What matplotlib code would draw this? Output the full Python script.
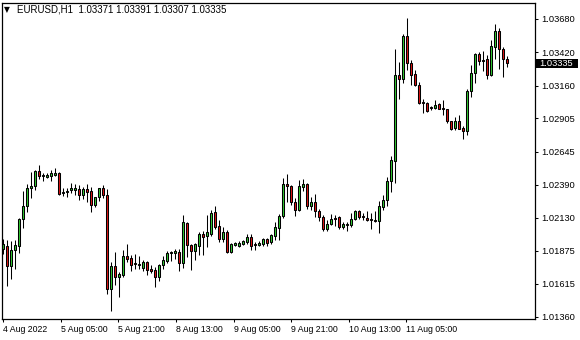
import numpy as np
import matplotlib
matplotlib.use('Agg')
import matplotlib.pyplot as plt
import matplotlib.transforms as mtransforms
from matplotlib.patches import Rectangle

plt.rcParams['font.family'] = ['Liberation Sans', 'DejaVu Sans']

symbol = 'EURUSD,H1'

# hourly candles, 4 Aug 2022 13:00 onwards
opens = [1.01887, 1.01911, 1.01755, 1.01880, 1.01911, 1.02121, 1.02222, 1.02363, 1.02378, 1.02495,
         1.02456, 1.02448, 1.02456, 1.02464, 1.02480, 1.02324, 1.02332, 1.02347, 1.02347, 1.02355,
         1.02308, 1.02355, 1.02339, 1.02230, 1.02293, 1.02363, 1.02308, 1.01576, 1.01755, 1.01669,
         1.01685, 1.01833, 1.01817, 1.01770, 1.01763, 1.01739, 1.01786, 1.01731, 1.01724, 1.01669,
         1.01763, 1.01794, 1.01856, 1.01856, 1.01864, 1.01778, 1.02090, 1.01919, 1.01872, 1.01911,
         1.02004, 1.01989, 1.02004, 1.02176, 1.02067, 1.01965, 1.02020, 1.01864, 1.01919, 1.01911,
         1.01926, 1.01942, 1.01981, 1.01926, 1.01919, 1.01926, 1.01965, 1.01942, 1.01989, 1.02051,
         1.02145, 1.02394, 1.02378, 1.02254, 1.02191, 1.02371, 1.02394, 1.02222, 1.02254, 1.02184,
         1.02137, 1.02043, 1.02082, 1.02129, 1.02137, 1.02059, 1.02078, 1.02074, 1.02121, 1.02184,
         1.02145, 1.02129, 1.02121, 1.02113, 1.02106, 1.02215, 1.02269, 1.02417, 1.02573, 1.03243,
         1.03212, 1.03547, 1.03337, 1.03251, 1.03166, 1.03033, 1.03025, 1.02994, 1.02986, 1.03017,
         1.02986, 1.02978, 1.02885, 1.02830, 1.02885, 1.02830, 1.02807, 1.03119, 1.03259, 1.03407,
         1.03360, 1.03368, 1.03243, 1.03462, 1.03586, 1.03446, 1.03371]
highs = [1.01965, 1.01957, 1.01950, 1.01957, 1.02129, 1.02339, 1.02394, 1.02487, 1.02503, 1.02542,
         1.02480, 1.02480, 1.02503, 1.02519, 1.02487, 1.02363, 1.02363, 1.02402, 1.02394, 1.02386,
         1.02371, 1.02394, 1.02371, 1.02293, 1.02363, 1.02386, 1.02355, 1.01786, 1.01864, 1.01708,
         1.01880, 1.01926, 1.01841, 1.01848, 1.01833, 1.01802, 1.01790, 1.01763, 1.01747, 1.01770,
         1.01833, 1.01872, 1.01872, 1.01887, 1.01887, 1.02152, 1.02095, 1.01926, 1.01934, 1.02020,
         1.02028, 1.02152, 1.02191, 1.02222, 1.02113, 1.02059, 1.02035, 1.01934, 1.01942, 1.01950,
         1.01957, 1.02004, 1.02004, 1.01942, 1.01950, 1.01973, 1.01973, 1.02004, 1.02098, 1.02160,
         1.02441, 1.02472, 1.02386, 1.02285, 1.02425, 1.02433, 1.02400, 1.02293, 1.02316, 1.02199,
         1.02152, 1.02113, 1.02160, 1.02152, 1.02145, 1.02098, 1.02098, 1.02168, 1.02191, 1.02188,
         1.02168, 1.02184, 1.02168, 1.02184, 1.02261, 1.02308, 1.02448, 1.02612, 1.03446, 1.03345,
         1.03563, 1.03688, 1.03360, 1.03282, 1.03189, 1.03056, 1.03033, 1.03002, 1.03049, 1.03025,
         1.03049, 1.02982, 1.02888, 1.02916, 1.02932, 1.02846, 1.03134, 1.03321, 1.03415, 1.03423,
         1.03430, 1.03399, 1.03516, 1.03641, 1.03610, 1.03462, 1.03391]
lows = [1.01848, 1.01599, 1.01654, 1.01731, 1.01856, 1.02051, 1.02176, 1.02285, 1.02347, 1.02433,
        1.02417, 1.02441, 1.02417, 1.02456, 1.02308, 1.02300, 1.02293, 1.02324, 1.02308, 1.02269,
        1.02277, 1.02254, 1.02176, 1.02215, 1.02261, 1.02285, 1.01537, 1.01404, 1.01607, 1.01513,
        1.01669, 1.01786, 1.01716, 1.01731, 1.01731, 1.01716, 1.01685, 1.01700, 1.01591, 1.01638,
        1.01731, 1.01778, 1.01794, 1.01809, 1.01716, 1.01739, 1.01825, 1.01724, 1.01802, 1.01841,
        1.01841, 1.01903, 1.01989, 1.02043, 1.01942, 1.01942, 1.01856, 1.01856, 1.01911, 1.01903,
        1.01919, 1.01926, 1.01880, 1.01880, 1.01911, 1.01911, 1.01911, 1.01926, 1.01957, 1.01957,
        1.02129, 1.02254, 1.02230, 1.02145, 1.02185, 1.02339, 1.02199, 1.02191, 1.02137, 1.02106,
        1.02028, 1.02028, 1.02074, 1.02067, 1.02043, 1.02043, 1.02028, 1.02059, 1.02113, 1.02121,
        1.02113, 1.02106, 1.02043, 1.02098, 1.02012, 1.02191, 1.02222, 1.02332, 1.02402, 1.03056,
        1.03181, 1.03282, 1.03166, 1.03158, 1.03017, 1.02947, 1.02955, 1.02971, 1.02978, 1.02975,
        1.02932, 1.02869, 1.02815, 1.02815, 1.02820, 1.02745, 1.02776, 1.03072, 1.03181, 1.03321,
        1.03275, 1.03212, 1.03236, 1.03368, 1.03290, 1.03228, 1.03307]
closes = [1.01926, 1.01755, 1.01880, 1.01919, 1.02121, 1.02222, 1.02363, 1.02378, 1.02495, 1.02456,
          1.02464, 1.02464, 1.02480, 1.02480, 1.02316, 1.02332, 1.02339, 1.02363, 1.02363, 1.02308,
          1.02355, 1.02332, 1.02230, 1.02293, 1.02363, 1.02308, 1.01576, 1.01755, 1.01669, 1.01692,
          1.01833, 1.01809, 1.01763, 1.01778, 1.01770, 1.01786, 1.01724, 1.01716, 1.01669, 1.01763,
          1.01802, 1.01856, 1.01864, 1.01872, 1.01778, 1.02098, 1.01919, 1.01872, 1.01926, 1.02004,
          1.01981, 1.02020, 1.02168, 1.02059, 1.01965, 1.02020, 1.01864, 1.01926, 1.01934, 1.01934,
          1.01950, 1.01981, 1.01911, 1.01919, 1.01934, 1.01965, 1.01934, 1.01996, 1.02059, 1.02145,
          1.02394, 1.02378, 1.02254, 1.02191, 1.02378, 1.02394, 1.02222, 1.02254, 1.02184, 1.02137,
          1.02043, 1.02082, 1.02121, 1.02125, 1.02059, 1.02082, 1.02085, 1.02121, 1.02184, 1.02137,
          1.02137, 1.02113, 1.02113, 1.02106, 1.02222, 1.02269, 1.02417, 1.02581, 1.03243, 1.03212,
          1.03547, 1.03337, 1.03243, 1.03166, 1.03025, 1.03025, 1.02963, 1.02986, 1.03010, 1.02980,
          1.02980, 1.02885, 1.02823, 1.02885, 1.02823, 1.02807, 1.03119, 1.03259, 1.03407, 1.03353,
          1.03356, 1.03243, 1.03469, 1.03586, 1.03446, 1.03368, 1.03335]

time_labels = ['4 Aug 2022', '5 Aug 05:00', '5 Aug 21:00', '8 Aug 13:00',
               '9 Aug 05:00', '9 Aug 21:00', '10 Aug 13:00', '11 Aug 05:00']
price_ticks = [1.03680, 1.03420, 1.03160, 1.02905, 1.02645,
               1.02390, 1.02130, 1.01875, 1.01615, 1.01360]

o = np.array(opens)
h = np.array(highs)
l = np.array(lows)
c = np.array(closes)
x = np.arange(len(o))

fig = plt.figure(figsize=(5.8, 3.4), dpi=100)
ax = fig.add_axes([2/580, 21/340, 533/580, 316.5/340])

up = c >= o
cols = np.where(up, '#32c832', '#dc1414')
ax.vlines(x, l, h, color='black', lw=0.75, zorder=1)
ax.bar(x, np.abs(c - o), bottom=np.minimum(o, c), width=0.55,
       color=cols, edgecolor='black', linewidth=0.75, zorder=2)

ax.set_xlim(-0.3, -0.3 + 533/4)
ax.set_ylim(1.013417, 1.038086)

for s in ax.spines.values():
    s.set_linewidth(0.9)
    s.set_color('black')

ax.yaxis.tick_right()
ax.set_yticks(price_ticks)
ax.set_yticklabels(['%.5f' % p for p in price_ticks])
ax.tick_params(axis='y', length=2.5, width=0.75, pad=1.8, labelsize=6.7)

ax.set_xticks(np.arange(len(time_labels)) * 14.4)
ax.set_xticklabels(time_labels)
ax.tick_params(axis='x', length=1.8, width=0.75, pad=2.5, labelsize=6.3)
for lab in ax.get_xticklabels():
    lab.set_ha('left')

# header
hy = 1 - 10/340
fig.text(4/580, hy, '\u25bc', fontsize=5.5, va='center', family='DejaVu Sans')
fig.text(17/580, hy, '%s  %.5f %.5f %.5f %.5f' % (symbol, o[-1], h[-1], l[-1], c[-1]),
         fontsize=7, va='center')

# last price box on the right scale
tr = mtransforms.blended_transform_factory(ax.transAxes, ax.transData)
ax.add_patch(Rectangle((1.0, c[-1] - 0.00037), 43/533, 0.00074, transform=tr,
                       facecolor='black', edgecolor='none', clip_on=False, zorder=5))
ax.text(1.0 + 4/533, c[-1], '%.5f' % c[-1], transform=tr, color='white',
        fontsize=6.7, va='center', ha='left', zorder=6)

fig.savefig('out.png', dpi=100)
